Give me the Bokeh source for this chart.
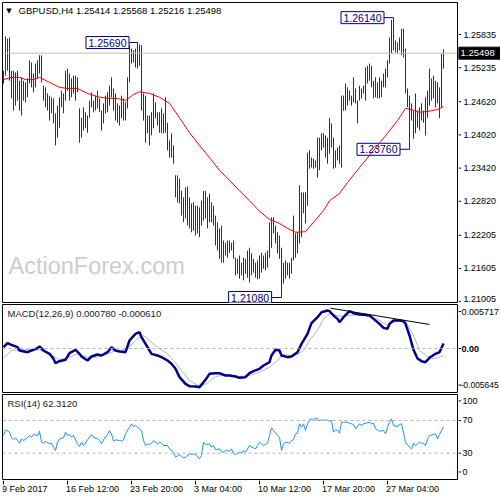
from bokeh.plotting import figure
from bokeh.layouts import column, row
from bokeh.models import Range1d, Label, Span
from bokeh.core.properties import value
from bokeh.embed import file_html
from bokeh.resources import INLINE

# ---------------- data ----------------
bar_high = [
    1.2518, 1.2580, 1.2576, 1.2578, 1.2518, 1.2518, 1.2515, 1.2518, 1.2500, 1.2506,
    1.2500, 1.2497, 1.2504, 1.2537, 1.2533, 1.2513, 1.2531, 1.2537, 1.2546, 1.2546,
    1.2491, 1.2488, 1.2477, 1.2473, 1.2470, 1.2468, 1.2441, 1.2455, 1.2470, 1.2482,
    1.2477, 1.2518, 1.2522, 1.2513, 1.2504, 1.2509, 1.2509, 1.2506, 1.2450, 1.2433,
    1.2452, 1.2443, 1.2437, 1.2464, 1.2479, 1.2464, 1.2473, 1.2482, 1.2468, 1.2446,
    1.2459, 1.2473, 1.2479, 1.2491, 1.2506, 1.2486, 1.2477, 1.2459, 1.2455, 1.2473,
    1.2468, 1.2461, 1.2506, 1.2564, 1.2558, 1.2555, 1.2558, 1.2569, 1.2566, 1.2564,
    1.2477, 1.2473, 1.2437, 1.2437, 1.2443, 1.2477, 1.2461, 1.2443, 1.2443, 1.2450,
    1.2441, 1.2470, 1.2424, 1.2392, 1.2405, 1.2383, 1.2329, 1.2329, 1.2323, 1.2301,
    1.2289, 1.2307, 1.2309, 1.2289, 1.2278, 1.2280, 1.2274, 1.2274, 1.2271, 1.2283,
    1.2301, 1.2301, 1.2289, 1.2296, 1.2280, 1.2274, 1.2256, 1.2244, 1.2233, 1.2238,
    1.2211, 1.2207, 1.2211, 1.2211, 1.2207, 1.2211, 1.2180, 1.2178, 1.2184, 1.2171,
    1.2180, 1.2178, 1.2193, 1.2198, 1.2188, 1.2178, 1.2171, 1.2175, 1.2184, 1.2189,
    1.2184, 1.2189, 1.2193, 1.2244, 1.2253, 1.2253, 1.2238, 1.2226, 1.2220, 1.2198,
    1.2171, 1.2175, 1.2171, 1.2171, 1.2180, 1.2256, 1.2224, 1.2226, 1.2311, 1.2298,
    1.2298, 1.2298, 1.2370, 1.2374, 1.2361, 1.2359, 1.2356, 1.2397, 1.2397, 1.2405,
    1.2405, 1.2401, 1.2397, 1.2433, 1.2423, 1.2397, 1.2374, 1.2379, 1.2383, 1.2473,
    1.2473, 1.2495, 1.2488, 1.2482, 1.2473, 1.2506, 1.2486, 1.2464, 1.2491, 1.2486,
    1.2491, 1.2524, 1.2527, 1.2531, 1.2527, 1.2500, 1.2506, 1.2497, 1.2506, 1.2500,
    1.2513, 1.2522, 1.2537, 1.2578, 1.2610, 1.2614, 1.2573, 1.2569, 1.2578, 1.2594,
    1.2594, 1.2558, 1.2486, 1.2473, 1.2459, 1.2446, 1.2477, 1.2446, 1.2452, 1.2459,
    1.2446, 1.2470, 1.2482, 1.2522, 1.2504, 1.2509, 1.2500, 1.2497, 1.2488, 1.2549,
    1.25568,
]
bar_low = [
    1.2495, 1.2509, 1.2518, 1.2500, 1.2468, 1.2446, 1.2455, 1.2464, 1.2446, 1.2437,
    1.2464, 1.2461, 1.2470, 1.2495, 1.2488, 1.2479, 1.2488, 1.2504, 1.2513, 1.2497,
    1.2464, 1.2452, 1.2446, 1.2428, 1.2441, 1.2423, 1.2383, 1.2397, 1.2415, 1.2452,
    1.2441, 1.2464, 1.2482, 1.2464, 1.2470, 1.2477, 1.2464, 1.2479, 1.2388, 1.2397,
    1.2410, 1.2415, 1.2406, 1.2433, 1.2452, 1.2443, 1.2446, 1.2450, 1.2443, 1.2410,
    1.2423, 1.2441, 1.2443, 1.2455, 1.2470, 1.2446, 1.2428, 1.2424, 1.2419, 1.2432,
    1.2428, 1.2428, 1.2450, 1.2497, 1.2531, 1.2533, 1.2524, 1.2522, 1.2527, 1.2446,
    1.2428, 1.2388, 1.2405, 1.2383, 1.2401, 1.2414, 1.2432, 1.2419, 1.2406, 1.2405,
    1.2405, 1.2406, 1.2374, 1.2361, 1.2361, 1.2350, 1.2289, 1.2280, 1.2278, 1.2256,
    1.2244, 1.2251, 1.2238, 1.2233, 1.2226, 1.2229, 1.2220, 1.2224, 1.2217, 1.2238,
    1.2247, 1.2251, 1.2233, 1.2244, 1.2244, 1.2238, 1.2202, 1.2193, 1.2178, 1.2171,
    1.2171, 1.2184, 1.2180, 1.2189, 1.2193, 1.2178, 1.2148, 1.2151, 1.2142, 1.2148,
    1.2139, 1.2151, 1.2144, 1.2135, 1.2148, 1.2153, 1.2144, 1.2141, 1.2142, 1.2153,
    1.2160, 1.2157, 1.2162, 1.2180, 1.2198, 1.2224, 1.2206, 1.2188, 1.2178, 1.2108,
    1.2133, 1.2142, 1.2148, 1.2142, 1.2151, 1.2175, 1.2180, 1.2188, 1.2206, 1.2217,
    1.2260, 1.2242, 1.2274, 1.2341, 1.2343, 1.2341, 1.2343, 1.2325, 1.2338, 1.2374,
    1.2379, 1.2361, 1.2350, 1.2368, 1.2379, 1.2341, 1.2343, 1.2356, 1.2350, 1.2343,
    1.2446, 1.2446, 1.2455, 1.2464, 1.2455, 1.2461, 1.2459, 1.2423, 1.2464, 1.2468,
    1.2477, 1.2464, 1.2495, 1.2500, 1.2488, 1.2468, 1.2470, 1.2468, 1.2468, 1.2470,
    1.2488, 1.2488, 1.2506, 1.2531, 1.2549, 1.2555, 1.2551, 1.2549, 1.2555, 1.2546,
    1.2542, 1.2477, 1.2452, 1.2376, 1.2428, 1.2395, 1.2405, 1.2415, 1.2410, 1.2428,
    1.2424, 1.2401, 1.2433, 1.2455, 1.2464, 1.2468, 1.2452, 1.2459, 1.2432, 1.2452,
    1.25216,
]
last_close = 1.25498

ma_idx = [0, 4, 8, 11, 15, 18, 23, 28, 32, 37, 42, 47, 52, 57, 61, 65, 68, 73, 78, 83,
          88, 93, 98, 103, 108, 113, 118, 123, 128, 133, 138, 142, 146, 151, 155, 160,
          163, 168, 172, 178, 185, 192, 197, 201, 204, 208, 213, 217, 220]
ma_val = [1.2502, 1.2506, 1.2506, 1.2502, 1.2502, 1.2506, 1.2497, 1.2488, 1.2486, 1.2486,
          1.2477, 1.2471, 1.2468, 1.2468, 1.2464, 1.2475, 1.2480, 1.2477, 1.2470, 1.2459,
          1.2433, 1.2406, 1.2383, 1.2361, 1.2338, 1.2320, 1.2301, 1.2283, 1.2264, 1.2249,
          1.2242, 1.2233, 1.2226, 1.2227, 1.2244, 1.2265, 1.2283, 1.2296, 1.2316, 1.2343,
          1.2374, 1.2405, 1.2428, 1.2450, 1.2448, 1.2443, 1.2445, 1.2448, 1.2453]

macd_idx = [0, 2, 4, 7, 8, 12, 14, 17, 18, 20, 23, 25, 26, 28, 31, 33, 36, 38, 39, 42,
            44, 47, 49, 52, 54, 56, 58, 61, 63, 66, 68, 69, 72, 74, 77, 79, 82, 84, 86, 88,
            91, 93, 96, 98, 101, 103, 106, 108, 111, 113, 116, 118, 121, 123, 125, 128,
            130, 133, 134, 136, 138, 139, 142, 144, 147, 149, 152, 154, 157, 159, 162, 163,
            165, 167, 168, 170, 173, 175, 178, 180, 183, 185, 188, 190, 192, 193, 195, 198,
            200, 201, 203, 205, 207, 209, 211, 213, 216, 218, 220]
macd_val = [0.000206, 0.000824, 0.000567, 0.000206, -0.000309, -0.000567, -0.000309,
            0.000052, 0.000309, -0.000309, -0.000824, -0.001597, -0.002266, -0.001957,
            -0.001751, -0.000721, -0.000206, -0.000824, -0.001236, -0.001854, -0.001236,
            -0.000927, -0.001082, -0.000567, 0.000206, -0.000309, -0.000464, -0.000567,
            0.001236, 0.002266, 0.002524, 0.001751, 0.000206, -0.000824, -0.001082,
            -0.001339, -0.001854, -0.002369, -0.003142, -0.004429, -0.005459, -0.005820,
            -0.005871, -0.005974, -0.004841, -0.003914, -0.003811, -0.003811, -0.004172,
            -0.004172, -0.004326, -0.004532, -0.004429, -0.003811, -0.003502, -0.003142,
            -0.002627, -0.002112, -0.001082, -0.000206, -0.000309, -0.001082, -0.001339,
            -0.001236, -0.000567, 0.000721, 0.002266, 0.003914, 0.004841, 0.005614,
            0.005871, 0.005768, 0.005099, 0.004584, 0.004069, 0.004841, 0.005768, 0.005459,
            0.005253, 0.005202, 0.005099, 0.004584, 0.003811, 0.003193, 0.003039, 0.003811,
            0.004326, 0.004326, 0.004223, 0.003811, 0.002009, -0.000206, -0.001545,
            -0.001957, -0.002112, -0.001442, -0.000824, -0.000567, 0.000780]

signal_idx = [0, 4, 8, 13, 18, 23, 28, 32, 37, 42, 47, 52, 56, 60, 63, 67, 70, 73, 77, 82,
              85, 89, 93, 98, 102, 106, 112, 118, 123, 128, 133, 137, 140, 143, 147, 150,
              153, 157, 160, 163, 167, 170, 173, 178, 183, 188, 192, 195, 198, 201, 205,
              208, 212, 215, 218, 220]
signal_val = [-0.001442, -0.000309, -0.000206, -0.000206, -0.000206, -0.000824, -0.001751,
              -0.001442, -0.000824, -0.001339, -0.001339, -0.000824, -0.000309, -0.000309,
              0.000309, 0.001494, 0.002009, 0.001236, 0.000206, -0.000824, -0.001854,
              -0.003399, -0.004944, -0.005871, -0.005356, -0.004326, -0.004017, -0.004326,
              -0.004172, -0.003657, -0.002884, -0.001854, -0.000927, -0.001082, -0.000927,
              -0.000309, 0.001236, 0.002781, 0.004584, 0.005356, 0.005099, 0.004944,
              0.005099, 0.005253, 0.005099, 0.004326, 0.003554, 0.004069, 0.004223,
              0.004223, 0.002009, -0.000309, -0.001236, -0.001597, -0.001339, -0.001082]

macd_trend_idx = [163.5, 213]
macd_trend_val = [0.00623, 0.00371]

rsi_idx = [0, 1, 3, 4, 5, 6, 7, 8, 9, 10, 12, 13, 14, 15, 17, 18, 19, 20, 21, 23, 24, 25,
           26, 27, 28, 30, 31, 32, 33, 34, 35, 37, 38, 39, 40, 41, 42, 43, 44, 45, 47, 48,
           49, 50, 52, 53, 54, 55, 56, 58, 59, 60, 61, 63, 64, 65, 66, 68, 69, 70, 71, 72,
           73, 74, 75, 77, 78, 79, 80, 82, 83, 84, 85, 86, 88, 89, 90, 91, 93, 94, 95, 96,
           98, 99, 100, 101, 103, 104, 105, 106, 108, 109, 110, 111, 113, 114, 115, 116,
           118, 119, 120, 121, 123, 124, 125, 126, 127, 128, 129, 130, 132, 133, 134, 135,
           137, 138, 139, 140, 141, 143, 144, 145, 146, 147, 148, 149, 150, 151, 152, 153,
           154, 155, 156, 158, 159, 160, 161, 163, 164, 165, 166, 167, 168, 169, 170, 172,
           173, 174, 175, 176, 178, 179, 180, 181, 183, 184, 185, 186, 187, 188, 190, 191,
           192, 193, 194, 195, 197, 198, 199, 200, 201, 203, 204, 205, 206, 208, 209, 210,
           211, 212, 213, 215, 216, 217, 218, 220]
rsi_val = [51.6, 58.6, 55.7, 48.8, 46.3, 48.8, 45.5, 42.2, 47.5, 45.5, 48.8, 51.6, 49.6,
           52.8, 51.6, 56.9, 43.5, 42.2, 44.7, 41.4, 42.2, 37.3, 33.3, 43.5, 47.5, 48.8,
           55.7, 51.6, 52.8, 49.6, 51.6, 41.4, 38.2, 43.5, 39.4, 42.2, 46.3, 49.6, 52.8,
           49.6, 47.5, 45.5, 41.4, 46.3, 52.8, 57.7, 53.7, 44.7, 46.3, 45.5, 44.7, 46.3,
           53.7, 61.8, 65.9, 62.6, 63.9, 59.8, 57.7, 45.5, 39.4, 41.4, 40.6, 42.2, 45.5,
           41.4, 43.5, 42.2, 39.4, 39.4, 35.3, 33.3, 31.2, 25.1, 28.4, 25.9, 24.3, 25.1,
           29.2, 28.4, 29.2, 28.4, 23.1, 27.2, 43.5, 40.6, 41.4, 37.3, 39.4, 34.1, 35.3,
           32.0, 31.2, 33.3, 32.5, 35.3, 30.0, 28.4, 31.2, 30.0, 33.3, 31.2, 39.4, 37.3,
           36.5, 35.3, 39.4, 43.5, 41.4, 39.4, 42.2, 51.6, 61.0, 57.7, 51.6, 49.6, 33.3,
           41.4, 43.5, 42.2, 45.5, 46.3, 53.7, 54.5, 65.9, 61.8, 65.9, 57.7, 65.9, 70.8,
           72.0, 70.0, 73.2, 70.0, 70.8, 70.0, 70.8, 69.2, 70.0, 55.7, 58.6, 57.7, 54.5,
           67.9, 67.9, 67.9, 66.7, 65.9, 65.1, 59.8, 65.9, 63.9, 65.9, 66.7, 67.9, 65.9,
           66.7, 59.8, 58.6, 56.9, 57.7, 53.7, 61.8, 67.9, 72.0, 63.9, 62.6, 65.1, 65.9,
           55.7, 43.5, 37.3, 35.3, 42.2, 39.4, 43.5, 42.2, 42.2, 39.4, 47.5, 51.6, 52.8,
           53.7, 47.5, 52.8, 62.3]

price_ticks = [1.21005, 1.21605, 1.22205, 1.22820, 1.23420, 1.24020, 1.24620, 1.25235, 1.25835]
macd_ticks = [0.005717, 0.0, -0.005645]
macd_tick_labels = ["0.005717", "0.00", "-0.005645"]
rsi_ticks = [94, 70, 30, 7]
rsi_tick_labels = ["100", "70", "30", "0"]

date_idx = [0, 32, 64, 96, 128, 160, 192]
date_labels = ["9 Feb 2017", "16 Feb 12:00", "23 Feb 20:00", "3 Mar 04:00",
               "10 Mar 12:00", "17 Mar 20:00", "27 Mar 04:00"]

ext_text = ["1.25690", "1.26140", "1.21080", "1.23760"]
ext_price = [1.2569, 1.2614, 1.2108, 1.2376]
ext_bar = [67, 195, 139, 203]
ext_box_x = [52, 179.5, 123.3, 187.5]

title_text = "GBPUSD,H4  1.25414 1.25568 1.25216 1.25498"
macd_title = "MACD(12,26,9) 0.000780 -0.000610"
rsi_title = "RSI(14) 62.3120"

# ---------------- styling ----------------
FONT = "Liberation Sans"
BAR = "#133c52"
PW = 458      # plot column width (frame 2..457)
AW = 42       # axis column width
xr = Range1d(-0.5, 227.0)
idx = list(range(len(bar_high)))


def plot_fig(h, yr, top, bottom, outline=True):
    f = figure(width=PW, height=h, x_range=xr, y_range=yr, output_backend="svg",
               toolbar_location=None, tools="", x_axis_location=None, y_axis_location=None,
               min_border_left=2, min_border_right=1, min_border_top=top,
               min_border_bottom=bottom)
    f.outline_line_color = "black" if outline else None
    f.outline_line_width = 1
    f.grid.visible = False
    f.background_fill_color = "white"
    f.border_fill_color = "white"
    return f


def axis_fig(h, yr, top, bottom):
    a = figure(width=AW, height=h, x_range=Range1d(0, AW), y_range=yr, output_backend="svg",
               toolbar_location=None, tools="", x_axis_location=None, y_axis_location=None,
               min_border_left=0, min_border_right=0, min_border_top=top,
               min_border_bottom=bottom)
    a.outline_line_color = None
    a.grid.visible = False
    a.background_fill_color = "white"
    a.border_fill_color = "white"
    return a


def ticks(a, vals, labels, tx, size="9px", dy=0, weight="normal"):
    a.segment(x0=[0] * len(vals), y0=vals, x1=[2.5] * len(vals), y1=vals,
              line_color="black", line_width=1)
    a.text(x=[tx] * len(vals), y=vals, text=labels, text_font=value(FONT),
           text_font_size=size, text_baseline="middle", text_align="left",
           text_color="black", y_offset=dy, text_font_style=weight)


# ---- main price panel ----
yr1 = Range1d(1.2099, 1.26414)
f1 = plot_fig(303, yr1, 2, 1)
f1.add_layout(Label(x=6, y=37, x_units="screen", y_units="screen", text="ActionForex.com",
                    text_font=FONT, text_font_size="23.5px", text_color="#cdcdcd",
                    text_baseline="middle", level="underlay"))
f1.add_layout(Span(location=last_close, dimension="width", line_color="#c0c0c0", line_width=1))
f1.segment(x0=idx, y0=bar_low, x1=idx, y1=bar_high, line_color=BAR, line_width=1)
f1.segment(x0=ext_box_x, y0=ext_price, x1=ext_bar, y1=ext_price, line_color="#000080", line_width=1)
f1.rect(x=ext_box_x, y=ext_price, width=43, height=12, width_units="screen", height_units="screen",
        fill_color="white", line_color="#000080", line_width=1)
f1.line(ma_idx, ma_val, line_color="#ff0000", line_width=1)
f1.text(x=ext_box_x, y=ext_price, text=ext_text, text_font=value(FONT), text_font_size="10.5px",
        text_align="center", text_baseline="middle", text_color="#000080")
f1.add_layout(Label(x=6.5, y=292, x_units="screen", y_units="screen", text="\u25bc",
                    text_font="DejaVu Sans", text_font_size="7px", text_align="center",
                    text_baseline="middle", text_color="black"))
f1.add_layout(Label(x=16, y=292, x_units="screen", y_units="screen", text=title_text,
                    text_font=FONT, text_font_size="9.5px", text_baseline="middle",
                    text_color="black"))

a1 = axis_fig(303, yr1, 2, 1)
ticks(a1, price_ticks[1:], ["%.5f" % t for t in price_ticks[1:]], 5)
ticks(a1, price_ticks[:1], ["%.5f" % t for t in price_ticks[:1]], 5, dy=-2.5)
a1.rect(x=[AW / 2], y=[last_close], width=AW, height=12, width_units="screen",
        height_units="screen", fill_color="black", line_color="black")
a1.text(x=[2], y=[last_close], text=["%.5f" % last_close], text_font=value(FONT),
        text_font_size="9.5px", text_baseline="middle", text_color="white")

# ---- MACD panel ----
yr2 = Range1d(-0.0068, 0.0068)
f2 = plot_fig(90, yr2, 1, 1)
f2.add_layout(Span(location=0, dimension="width", line_color="#b4b4b4", line_dash="3 3", line_width=1))
f2.line(signal_idx, signal_val, line_color="#b4b4b4", line_width=1)
f2.line(macd_idx, macd_val, line_color="#00008b", line_width=2.5)
f2.line(macd_trend_idx, macd_trend_val, line_color="black", line_width=1)
f2.add_layout(Label(x=5, y=79, x_units="screen", y_units="screen", text=macd_title,
                    text_font=FONT, text_font_size="9.5px", text_baseline="middle",
                    text_color="#1a1a1a"))

a2 = axis_fig(90, yr2, 1, 1)
ticks(a2, macd_ticks[:1], macd_tick_labels[:1], 3)
ticks(a2, macd_ticks[1:2], macd_tick_labels[1:2], 3, weight="bold")
ticks(a2, macd_ticks[2:], macd_tick_labels[2:], 2, size="8.5px")

# ---- RSI panel ----
yr3 = Range1d(-2.2, 101.8)
f3 = plot_fig(87, yr3, 1, 1)
f3.add_layout(Span(location=30, dimension="width", line_color="#b4b4b4", line_dash="3 3", line_width=1))
f3.add_layout(Span(location=70, dimension="width", line_color="#b4b4b4", line_dash="3 3", line_width=1))
f3.line(rsi_idx, rsi_val, line_color="#1e90ff", line_width=1)
f3.add_layout(Label(x=5, y=76.3, x_units="screen", y_units="screen", text=rsi_title,
                    text_font=FONT, text_font_size="9.5px", text_baseline="middle",
                    text_color="#1a1a1a"))

a3 = axis_fig(87, yr3, 1, 1)
ticks(a3, rsi_ticks, rsi_tick_labels, 4)

# ---- date axis strip ----
f4 = plot_fig(20, Range1d(0, 20), 0, 0, outline=False)
f4.segment(x0=date_idx, y0=[20] * len(date_idx), x1=date_idx, y1=[16] * len(date_idx),
           line_color="black", line_width=1)
f4.text(x=date_idx, y=[11.5] * len(date_idx), text=date_labels, text_font=value(FONT),
        text_font_size="9px", text_align="left", text_baseline="middle", text_color="black",
        x_offset=-1.5)

layout = column(row(f1, a1), row(f2, a2), row(f3, a3), f4)
open("out.html", "w").write(file_html(layout, INLINE))
